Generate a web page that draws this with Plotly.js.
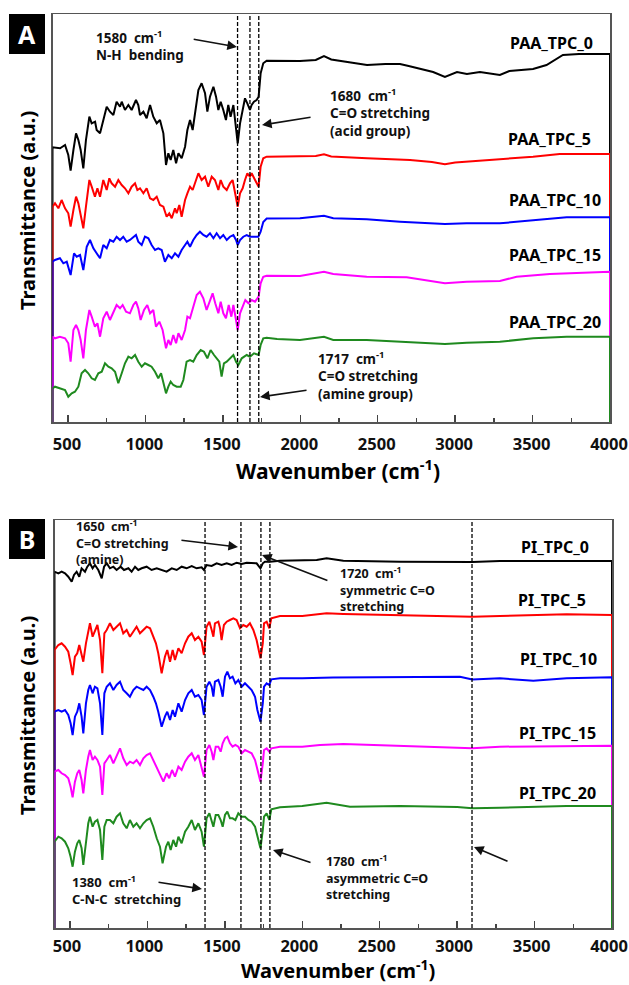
<!DOCTYPE html>
<html><head><meta charset="utf-8">
<script src="https://cdn.plot.ly/plotly-3.0.1.min.js"></script>
<style>html,body{margin:0;padding:0;background:#fff}</style>
</head><body><div id="chart" style="width:629px;height:985px"></div>
<script>
// ---------- Panel A : PAA spectra (wavenumber cm-1, transmittance a.u.) ----------
var paa0_wn = [400,449,481,502,517,535,552,567,582,599,616,638,653,675,685,707,728,750,771,793,814,836,847,868,890,911,939,954,965,987,1008,1030,1051,1073,1094,1116,1133,1148,1163,1180,1198,1213,1234,1256,1271,1288,1305,1320,1342,1363,1385,1400,1417,1439,1456,1471,1486,1503,1520,1535,1550,1568,1585,1596,1611,1628,1643,1658,1675,1686,1701,1718,1731,1744,1761,1783,1850,1998,2100,2153,2200,2300,2431,2550,2644,2700,2858,2934,3012,3076,3160,3289,3350,3503,3590,3696,3800,4000];
var paa0_t = [274.7,273.7,277,267,251.3,272,288.7,282,272,253.7,282,305.3,298.7,300.3,292,288.7,302,315.3,310.3,307,320.3,315.3,320.3,312,317,312,322,317,307,310.3,303.7,317,305.3,298.7,302,288.7,257,268.7,262,272,258.7,268.7,263.7,275.3,292,302,292,308.7,332,338.7,328.7,310.3,325.3,335.3,325.3,312,320.3,312,302,317,305.3,317,292,278.7,298.7,310.3,323.7,318.7,312,317,320.3,322,325.3,348.7,358.7,361.3,361,361,362,366,362.5,360,357,358,358,356,350,345,350,348,350,347,351,353,357,367,368,368];

var paa5_wn = [400,416,438,459,481,502,517,535,552,567,582,599,616,638,653,674,690,707,728,750,767,782,804,825,847,868,890,911,933,948,965,987,1008,1030,1051,1073,1094,1116,1137,1154,1170,1191,1202,1219,1234,1256,1271,1288,1305,1320,1342,1363,1385,1406,1428,1449,1471,1486,1503,1525,1546,1563,1578,1596,1611,1628,1643,1658,1675,1686,1708,1731,1744,1761,1783,1850,2000,2100,2153,2200,2431,2709,2850,2934,3000,3076,3289,3503,3675,4000];
var paa5_t = [215.3,218.7,213.7,222,213.7,208.7,195.3,212,225.3,218.7,205.3,193.7,215.3,242,235.3,225.3,233.7,225.3,242,232,243.7,238.7,235.3,242,237,233.7,228.7,235.3,238.7,232,233.7,228.7,233.7,223.7,222,225.3,217,215.3,205.3,208.7,203.7,213.7,208.7,217,205.3,222,228.7,235.3,232,238.7,248.7,242,245.3,235.3,245.3,242,232,242,235.3,232,238.7,242,230.3,215.3,228.7,233.7,242,248.7,245.3,248.7,242,235.3,255.3,263.7,265.3,265.3,265.3,266,267.7,265.5,263.7,262,260,257.7,259.5,260.3,262.7,265.3,268,268];

var paa10_wn = [400,416,448,470,492,517,539,556,578,599,621,642,664,685,707,728,750,771,793,814,836,857,879,900,922,939,954,976,997,1019,1040,1062,1083,1105,1126,1148,1170,1191,1213,1234,1256,1271,1288,1309,1331,1352,1374,1395,1417,1439,1460,1482,1503,1525,1546,1568,1585,1596,1611,1632,1654,1675,1697,1729,1744,1761,1783,1850,1998,2153,2213,2429,2644,2934,3074,3289,3505,3720,4000];
var paa10_t = [160.3,162,163.7,158.7,160.3,147,168.7,165.3,167,152,175.3,182,173.7,168.7,163.7,177,173.7,182,180.3,185.3,182,185.3,180.3,182,185.3,187,180.3,177,185.3,183.7,177,172,173.7,172,160.3,167,163.7,168.7,165.3,172,177,180.3,175.3,182,187,190.3,187,185.3,188.7,183.7,188.7,183.7,187,182,185.3,187,182,177,182,185.3,187,185.3,185.3,185.3,190.3,200,203.5,203.7,203.7,206.3,203.7,202.7,200.3,198,198.7,198.7,202,204.7,204.7];

var paa15_wn = [400,416,448,481,502,517,535,552,567,582,599,616,638,653,674,690,707,728,750,771,793,814,836,853,875,900,922,939,954,969,991,1012,1030,1051,1068,1090,1111,1133,1148,1163,1180,1198,1213,1234,1256,1271,1288,1309,1331,1352,1374,1395,1413,1434,1451,1471,1486,1503,1520,1538,1555,1568,1585,1596,1611,1628,1645,1665,1686,1708,1731,1744,1761,1783,1850,1998,2153,2213,2429,2687,2934,3074,3289,3397,3612,4000];
var paa15_t = [85.3,83.7,85.3,83.7,78.7,60.3,92,97,92,82,63.7,92,112,105.3,95.3,98.7,85.3,103.7,110.3,102,110.3,117,113.7,117,110.3,108.7,117,120.3,113.7,102,112,117,108.7,112,95.3,100.3,92,73.7,82,77,87,78.7,88.7,82,92,105.3,103.7,115.3,127,130.3,123.7,112,120.3,128.7,118.7,108.7,120.3,108.7,103.7,117,105.3,117,102,92,108.7,115.3,122,118.7,122,120.3,125.3,138.7,145.3,146.3,146.3,146,150.3,148,145.3,144.7,138.7,140.3,141,145.3,148,150.3];

var paa20_wn = [400,416,448,481,502,524,545,567,588,610,631,653,674,696,718,739,761,782,804,825,847,868,890,911,933,954,976,997,1019,1040,1062,1083,1101,1116,1133,1148,1163,1180,1202,1228,1245,1266,1288,1309,1331,1357,1378,1400,1421,1443,1460,1477,1492,1507,1525,1546,1568,1585,1600,1622,1654,1675,1701,1731,1744,1761,1783,1850,1998,2153,2213,2429,2644,2934,3074,3289,3505,3720,4000];
var paa20_t = [33.7,35.3,33.7,32,25.3,28.7,30.3,35.3,48.7,52,48.7,43.7,42,48.7,50.3,58.7,55.3,53.7,50.3,38.7,48.7,58.7,65.3,63.7,67,60.3,55.3,58.7,57,55.3,50.3,43.7,48.7,38.7,28.7,35.3,40.3,37,35.3,35.3,42,60.3,62,60.3,67,72,70.3,63.7,72,67,63.7,60.3,45.3,58.7,60.3,63.7,67,60.3,57,63.7,67,65.3,68.7,67,77,83.7,84.3,83,82,85.3,82,82,80.3,78,79.3,80.3,83.7,85.3,85.3];

// ---------- Panel B : PI spectra ----------
var pi0_wn = [400,425,446,468,489,511,526,543,560,575,597,612,629,646,661,683,705,720,737,758,780,801,827,849,877,898,920,941,963,995,1027,1060,1092,1124,1157,1189,1221,1253,1286,1318,1350,1365,1382,1415,1447,1479,1512,1544,1576,1609,1641,1673,1705,1730,1745,1759,1791,1856,2000,2093,2157,2265,2631,3098,3276,4000];
var pi0_t = [356.3,354.7,356.3,354.7,351.3,346.3,353,356.3,351.3,359.7,356.3,361.3,364.7,359.7,363,358,349.7,361.3,364.7,359.7,361.3,358,361.3,358,359.7,356.3,361.3,358,359.7,361.3,358,359.7,358,356.3,359.7,358,361.3,359.7,362,359.7,360.7,358,363,362,364.7,363,364.7,363,365.3,364,365.3,364.7,364.7,359.7,364.7,366.3,366.3,367.3,367.3,368,369.7,367.3,366.3,366,367,367];

var pi5_wn = [400,425,446,468,489,504,517,532,547,560,575,586,603,618,629,646,661,677,694,709,722,737,758,780,801,823,844,866,887,909,930,952,974,995,1017,1038,1055,1070,1092,1113,1128,1146,1163,1178,1200,1221,1243,1264,1286,1307,1329,1350,1365,1382,1400,1415,1426,1436,1458,1469,1479,1494,1512,1533,1555,1576,1598,1619,1641,1662,1684,1705,1730,1745,1753,1770,1787,1800,1856,2000,2157,2265,2631,3098,3276,3707,4000];
var pi5_t = [278,283,284.7,281.3,276.3,264.7,253,271.3,274.7,283,273,266.3,284.7,296.3,304.7,291.3,298,303,288,254.7,294.7,298,304.7,298,301.3,304.7,294.7,298,291.3,296.3,301.3,294.7,298,301.3,299.7,291.3,284.7,274.7,254.7,271.3,278,266.3,278,268,279.7,274.7,284.7,291.3,294.7,288,291.3,286.3,273,301.3,306.3,298,291.3,304.7,306.3,299.7,288,303,306.3,308,309.7,308,299.7,303,301.3,304.7,298,288,269.7,284.7,304.7,306.3,299.7,309.7,312,312,314.7,314,313,311.3,312,313.7,313];

var pi10_wn = [400,425,446,468,489,504,517,532,547,560,575,586,603,618,629,646,661,677,694,709,722,737,758,780,801,823,844,866,887,909,930,952,974,995,1017,1038,1055,1070,1092,1113,1128,1146,1163,1178,1200,1221,1243,1264,1286,1307,1329,1350,1365,1382,1400,1415,1426,1436,1458,1473,1486,1501,1516,1533,1550,1568,1587,1609,1630,1652,1673,1695,1710,1730,1745,1753,1770,1787,1800,1856,2000,2200,2631,3018,3098,3276,3492,3707,4000];
var pi10_t = [216.3,218,216.3,218,213,204.7,193,211.3,216.3,224.7,211.3,194.7,224.7,238,243,234.7,241.3,239.7,224.7,193,234.7,241.3,244.7,238,243,246.3,238,234.7,231.3,238,241.3,239.7,238,241.3,238,231.3,224.7,216.3,201.3,211.3,216.3,208,218,211.3,224.7,216.3,228,234.7,238,231.3,233,228,213,241.3,246.3,241.3,231.3,246.3,248,241.3,231.3,251.3,256.3,249.7,251.3,244.7,248,241.3,244.7,241.3,238,231.3,218,206.3,224.7,241.3,244.7,243,248.7,249.7,249.7,250.5,250.7,251.3,248.5,249.7,247.3,249.7,250.7];

var pi15_wn = [400,425,446,468,489,504,517,532,547,560,575,586,603,618,629,646,661,677,694,709,722,737,758,780,801,823,844,866,887,909,930,952,974,995,1017,1038,1060,1081,1103,1124,1141,1159,1178,1200,1221,1243,1264,1286,1307,1329,1350,1365,1382,1400,1415,1426,1441,1458,1473,1486,1501,1516,1533,1550,1568,1587,1609,1630,1652,1673,1695,1710,1730,1745,1753,1770,1787,1800,1856,2000,2114,2265,2631,3000,3098,3276,3707,4000];
var pi15_t = [156.3,158,154.7,153,149.7,141.3,130.7,146.3,154.7,158,148,134.7,158,171.3,178,168,171.3,168,161.3,133,164.7,168,173,164.7,173,179.7,169.7,163,166.3,164.7,168,163,169.7,173,174.7,168,161.3,153,146.3,154.7,149.7,158,151.3,161.3,158,166.3,171.3,174.7,168,173,161.3,151.3,178,183,176.3,168,181.3,181.3,176.3,184.7,189.7,191.3,184.7,181.3,183,181.3,174.7,178,176.3,174.7,168,158,146.3,164.7,178,179.7,176.3,179.7,181.3,181.3,183,184,182,180.5,179.7,181.3,182.3,182.3];

var pi20_wn = [400,425,446,468,489,504,517,532,547,560,575,586,603,618,629,646,661,677,694,709,722,737,758,780,801,823,844,866,887,909,930,952,974,995,1017,1038,1060,1081,1098,1120,1135,1150,1167,1185,1200,1221,1243,1264,1286,1307,1329,1350,1365,1382,1400,1415,1426,1441,1458,1473,1486,1501,1516,1533,1550,1568,1587,1609,1630,1652,1673,1695,1710,1730,1745,1753,1770,1787,1800,1856,2000,2157,2308,2631,3000,3098,3276,3707,4000];
var pi20_t = [86.3,91.3,89.7,86.3,79.7,71.3,61.3,76.3,84.7,88,79.7,63,88,104.7,111.3,101.3,106.3,108,98,68,101.3,108,108,104.7,111.3,114.7,104.7,99.7,108,101.3,104.7,99.7,104.7,108,109.7,101.3,89.7,81.3,64.7,81.3,86.3,78,88,81.3,91.3,84.7,96.3,101.3,108,98,104.7,96.3,81.3,109.7,114.7,108,101.3,113,113,108,101.3,113,116.3,109.7,109.7,108,114.7,111.3,111.3,108,106.3,101.3,91.3,79.7,98,111.3,114.7,108,118.7,120.7,122,125.3,121.3,122,121,119.7,120.3,122,122];

// marked band positions (cm-1)
var bandsA = [1595, 1675, 1732];
var bandsB = [1372, 1604, 1733, 1791, 3096];

var namesA = ['PAA_TPC_0','PAA_TPC_5','PAA_TPC_10','PAA_TPC_15','PAA_TPC_20'];
var namesB = ['PI_TPC_0','PI_TPC_5','PI_TPC_10','PI_TPC_15','PI_TPC_20'];
var colors = ['#000000','#ff0000','#0000ff','#ff00ff','#1f8a1f'];

var seriesA = [[paa0_wn,paa0_t],[paa5_wn,paa5_t],[paa10_wn,paa10_t],[paa15_wn,paa15_t],[paa20_wn,paa20_t]];
var seriesB = [[pi0_wn,pi0_t],[pi5_wn,pi5_t],[pi10_wn,pi10_t],[pi15_wn,pi15_t],[pi20_wn,pi20_t]];

function trace(s, color, name, xa, ya) {
  var wn = s[0], t = s[1];
  // spectrum drawn with drop lines to the baseline at both ends
  return {
    x: [wn[0]].concat(wn, [wn[wn.length - 1]]),
    y: [0].concat(t, [0]),
    mode: 'lines', name: name, xaxis: xa, yaxis: ya,
    line: {color: color, width: 2}, hoverinfo: 'skip'
  };
}
var data = [];
seriesA.forEach(function (s, i) { data.push(trace(s, colors[i], namesA[i], 'x', 'y')); });
seriesB.forEach(function (s, i) { data.push(trace(s, colors[i], namesB[i], 'x2', 'y2')); });

var FONT = 'Noto Sans, Open Sans, sans-serif';
var W = 629, H = 985;

function xax(domain, anchor, shift, standoff) {
  return {
    domain: domain, anchor: anchor, range: [400, 4000], tick0: 0, dtick: 500,
    ticks: 'inside', ticklen: 7, tickwidth: 1.5, tickcolor: '#444',
    minor: {dtick: 250, ticks: 'inside', ticklen: 4, tickwidth: 1.5, tickcolor: '#444', showgrid: false},
    showline: true, linecolor: '#555', linewidth: 1.5, mirror: true,
    showgrid: false, zeroline: false, layer: 'below traces',
    ticklabelstandoff: standoff, ticklabeloverflow: 'allow', ticklabelshift: shift,
    tickfont: {family: FONT, size: 16.5, color: '#111', weight: 'bold'}
  };
}
function yax(domain, anchor) {
  return {
    domain: domain, anchor: anchor, range: [0, 408],
    showticklabels: false, ticks: '', showline: true, linecolor: '#555', linewidth: 1.5,
    mirror: true, showgrid: false, zeroline: false, layer: 'below traces'
  };
}

var shapes = [];
bandsA.forEach(function (b) {
  shapes.push({type: 'line', xref: 'x', yref: 'y domain', x0: b, x1: b, y0: 0, y1: 1,
    line: {color: '#000', width: 1.3, dash: '4px,2px'}});
});
bandsB.forEach(function (b) {
  shapes.push({type: 'line', xref: 'x2', yref: 'y2 domain', x0: b, x1: b, y0: 0, y1: 1,
    line: {color: '#000', width: 1.3, dash: '4px,2px'}});
});

var ann = [];
function note(xr, yr, x, y, text, size) {
  ann.push({xref: xr, yref: yr, x: x, y: y, text: text, showarrow: false,
    xanchor: 'left', yanchor: 'middle', align: 'left', borderpad: 0, borderwidth: 0,
    font: {family: FONT, size: size, color: '#111', weight: 'bold'}});
}
function arrow(xr, yr, x, y, ax, ay) {
  ann.push({xref: xr, yref: yr, axref: xr, ayref: yr, x: x, y: y, ax: ax, ay: ay, text: '',
    showarrow: true, arrowhead: 2, arrowsize: 1.2, arrowwidth: 1.6, arrowcolor: '#111', standoff: 0});
}
function label(xr, yr, x, y, text) {
  ann.push({xref: xr, yref: yr, x: x, y: y, text: text, showarrow: false,
    xanchor: 'right', yanchor: 'middle',
    font: {family: FONT, size: 16, color: '#000', weight: 'bold'}});
}
// panel A notes
note('x', 'y', 681, 376, '1580  cm<sup>-1</sup><br>N-H  bending', 13.5);
arrow('x', 'y', 1591, 375, 1302, 383);
note('x', 'y', 2192, 309, '1680  cm<sup>-1</sup><br>C=O stretching<br>(acid group)', 13.5);
arrow('x', 'y', 1753, 297, 2076, 305);
note('x', 'y', 2114, 47, '1717  cm<sup>-1</sup><br>C=O stretching<br>(amine group)', 13.5);
arrow('x', 'y', 1740, 25, 2050, 32);
var labA = [[3903, 379], [3890, 283], [3955, 222], [3955, 167], [3955, 100]];
namesA.forEach(function (n, i) { label('x', 'y', labA[i][0], labA[i][1], n); });
// panel B notes (tighter line spacing in the original)
note('x2', 'y2', 539, 386, '1650  cm<sup>-1</sup><br>C=O stretching<br>(amine)', 12.5);
arrow('x2', 'y2', 1585, 381, 1210, 388);
note('x2', 'y2', 2243, 339, '1720  cm<sup>-1</sup><br>symmetric C=O<br>stretching', 12.5);
arrow('x2', 'y2', 1740, 373, 2172, 347);
note('x2', 'y2', 513, 38, '1380  cm<sup>-1</sup><br>C-N-C  stretching', 13);
arrow('x2', 'y2', 1352, 39, 1062, 46);
note('x2', 'y2', 2153, 51, '1780  cm<sup>-1</sup><br>asymmetric C=O<br>stretching', 12.5);
arrow('x2', 'y2', 1811, 78, 2063, 65);
arrow('x2', 'y2', 3109, 81, 3335, 66);
var labB = [[3864, 381], [3845, 328], [3916, 269], [3909, 195], [3909, 135]];
namesB.forEach(function (n, i) { label('x2', 'y2', labB[i][0], labB[i][1], n); });

// axis titles
function ptitle(px, py, text, size, angle) {
  ann.push({xref: 'paper', yref: 'paper', x: px / W, y: 1 - py / H, text: text, showarrow: false,
    xanchor: 'center', yanchor: 'middle', textangle: angle, borderpad: 0, borderwidth: 0,
    font: {family: FONT, size: size, color: '#000', weight: 'bold'}});
}
ptitle(27, 211, 'Transmittance (a.u.)', 20, -90);
ptitle(27, 716, 'Transmittance (a.u.)', 20, -90);
ptitle(338, 469, 'Wavenumber (cm<sup>-1</sup>)', 21, 0);
ptitle(338, 969, 'Wavenumber (cm<sup>-1</sup>)', 20, 0);

// panel letters
function letter(py, t) {
  ann.push({xref: 'paper', yref: 'paper', x: 9 / W, y: 1 - py / H, xanchor: 'left', yanchor: 'top',
    text: t, showarrow: false, bgcolor: '#000', width: 36, height: 40, borderpad: 0, borderwidth: 0,
    font: {family: FONT, size: 25, color: '#fff', weight: 'bold'}});
}
letter(14, 'A');
letter(519, 'B');

var layout = {
  width: W, height: H, margin: {l: 0, r: 0, t: 0, b: 0},
  paper_bgcolor: '#fff', plot_bgcolor: '#fff', showlegend: false,
  xaxis: xax([52.5 / W, 610 / W], 'y', -1, 7),
  yaxis: yax([(H - 422) / H, (H - 14) / H], 'x'),
  xaxis2: xax([54.5 / W, 612 / W], 'y2', -3, 3),
  yaxis2: yax([(H - 928) / H, (H - 520) / H], 'x2'),
  shapes: shapes, annotations: ann
};
Plotly.newPlot('chart', data, layout, {staticPlot: true, displayModeBar: false});
</script></body></html>
